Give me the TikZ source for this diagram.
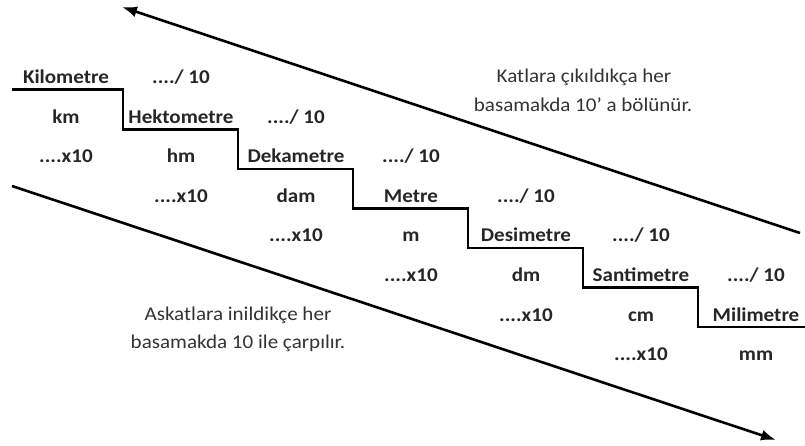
\documentclass[tikz,border=0pt]{standalone}
\usepackage{fontspec}
\setmainfont{Carlito}[FakeStretch=1.08]
\usetikzlibrary{arrows.meta}
\tikzset{
  unit/.style={anchor=base, inner sep=0pt, font=\fontsize{19.5}{22}\selectfont\bfseries, text=black!85},
  note/.style={anchor=base, inner sep=0pt, font=\fontsize{19.5}{22}\selectfont, text=black!80},
  stair/.style={line width=2.6pt, line join=miter, black},
  bigarrow/.style={line width=2.6pt, black, -{Latex[length=15pt,width=11pt]}}
}
\begin{document}
\begin{tikzpicture}[x=1pt,y=-1pt]
\useasboundingbox (0,0) rectangle (805,446);
% staircase
\draw[stair] (12,89.5) -- (123,89.5) -- (123,129.5) -- (238,129.5) -- (238,169) -- (353,169)
  -- (353,208.5) -- (468,208.5) -- (468,248) -- (583,248) -- (583,287.5) -- (698,287.5)
  -- (698,327) -- (805,327);
% arrows
\coordinate (upS) at (800,233);
\coordinate (upE) at (122,7);
\coordinate (dnS) at (12,186);
\coordinate (dnE) at (776,440);
\draw[bigarrow] (upS) -- (upE);
\draw[bigarrow] (dnS) -- (dnE);
% row 1
\node[unit] (kmname) at (66,84) {Kilometre};
\node[unit] (d1) at (181,84) {..../ 10};
% row 2
\node[unit] (km) at (66,123.5) {km};
\node[unit] (hmname) at (181,123.5) {Hektometre};
\node[unit] (d2) at (296,123.5) {..../ 10};
% row 3
\node[unit] (m1) at (66,163) {....x10};
\node[unit] (hm) at (181,163) {hm};
\node[unit] (damname) at (296,163) {Dekametre};
\node[unit] (d3) at (411,163) {..../ 10};
% row 4
\node[unit] (m2) at (181,202.5) {....x10};
\node[unit] (dam) at (296,202.5) {dam};
\node[unit] (mname) at (411,202.5) {Metre};
\node[unit] (d4) at (526,202.5) {..../ 10};
% row 5
\node[unit] (m3) at (296,242) {....x10};
\node[unit] (m) at (411,242) {m};
\node[unit] (dmname) at (526,242) {Desimetre};
\node[unit] (d5) at (641,242) {..../ 10};
% row 6
\node[unit] (m4) at (411,281.5) {....x10};
\node[unit] (dm) at (526,281.5) {dm};
\node[unit] (cmname) at (641,281.5) {Santimetre};
\node[unit] (d6) at (756,281.5) {..../ 10};
% row 7
\node[unit] (m5) at (526,321) {....x10};
\node[unit] (cm) at (641,321) {cm};
\node[unit] (mmname) at (756,321) {Milimetre};
% row 8
\node[unit] (m6) at (641,360.5) {....x10};
\node[unit] (mm) at (756,360.5) {mm};
% notes
\node[note] (up1) at (584,83) {Katlara çıkıldıkça her};
\node[note] (up2) at (583,112) {basamakda 10' a bölünür.};
\node[note] (dn1) at (238,320) {Askatlara inildikçe her};
\node[note] (dn2) at (238,348) {basamakda 10 ile çarpılır.};
\end{tikzpicture}
\end{document}
